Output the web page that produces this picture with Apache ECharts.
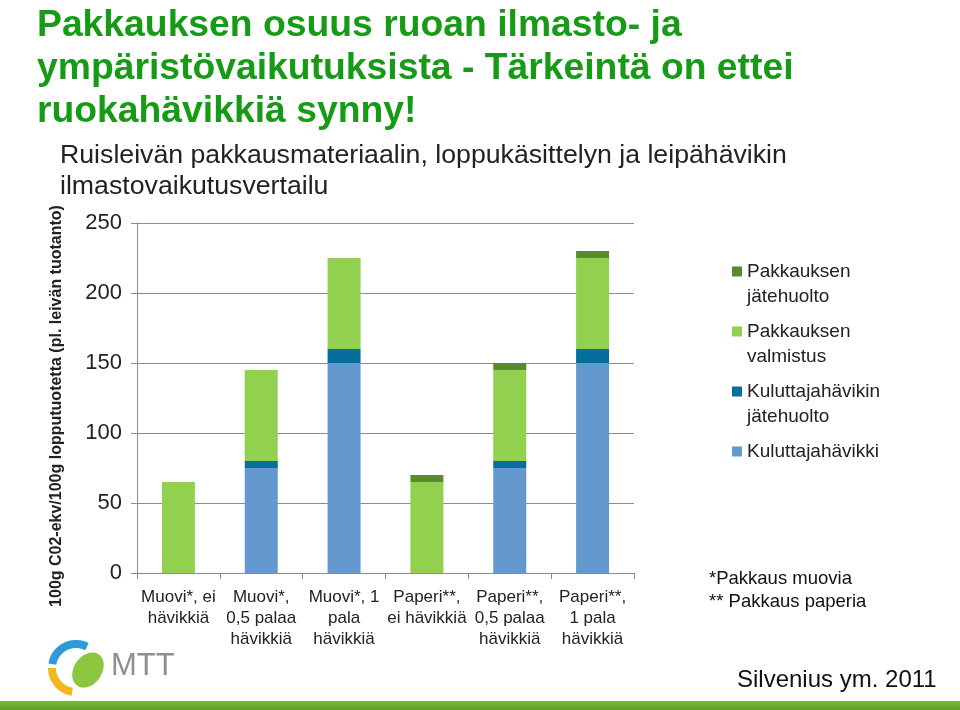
<!DOCTYPE html>
<html>
<head>
<meta charset="utf-8">
<script src="https://cdn.jsdelivr.net/npm/echarts@6/dist/echarts.min.js"></script>
<style>html,body{margin:0;padding:0;background:#fff;}#main{width:960px;height:710px;}</style>
</head>
<body>
<div id="main"></div>
<script>
const categories = ['Muovi*, ei\nhävikkiä', 'Muovi*,\n0,5 palaa\nhävikkiä', 'Muovi*, 1\npala\nhävikkiä', 'Paperi**,\nei hävikkiä', 'Paperi**,\n0,5 palaa\nhävikkiä', 'Paperi**,\n1 pala\nhävikkiä'];
const kuluttajahavikki = [0, 75, 150, 0, 75, 150];
const kuluttajahavikinJatehuolto = [0, 5, 10, 0, 5, 10];
const pakkauksenValmistus = [65, 65, 65, 65, 65, 65];
const pakkauksenJatehuolto = [0, 0, 0, 5, 5, 5];
const yTicks = [0, 50, 100, 150, 200, 250];

const FONT = '"Liberation Sans", Arial, sans-serif';
const chart = echarts.init(document.getElementById('main'), null, {renderer: 'canvas'});

const names = ['Kuluttajahävikki', 'Kuluttajahävikin\njätehuolto', 'Pakkauksen\nvalmistus', 'Pakkauksen\njätehuolto'];
const colors = ['#6399CF', '#066E9B', '#92D050', '#5B8A2E'];
const values = [kuluttajahavikki, kuluttajahavikinJatehuolto, pakkauksenValmistus, pakkauksenJatehuolto];

const series = names.map((n, i) => ({
  name: n, type: 'bar', stack: 'total', barWidth: 33,
  itemStyle: {color: colors[i]},
  data: values[i]
}));

chart.setOption({
  animation: false,
  backgroundColor: '#fff',
  title: [
    {text: 'Pakkauksen osuus ruoan ilmasto- ja\nympäristövaikutuksista - Tärkeintä on ettei\nruokahävikkiä synny!',
     left: 37, top: 4, padding: 0,
     textStyle: {fontFamily: FONT, fontSize: 37.3, fontWeight: 'bold', color: '#179B17', lineHeight: 43}},
    {text: 'Ruisleivän pakkausmateriaalin, loppukäsittelyn ja leipähävikin\nilmastovaikutusvertailu',
     left: 60, top: 140, padding: 0,
     textStyle: {fontFamily: FONT, fontSize: 26.7, fontWeight: 'normal', color: '#222', lineHeight: 31}}
  ],
  legend: {
    orient: 'vertical', left: 732, top: 234, padding: 0, itemGap: -15,
    itemWidth: 10, itemHeight: 10, icon: 'rect',
    textStyle: {fontFamily: FONT, fontSize: 19, color: '#222', lineHeight: 25},
    formatter: function (name) { return name.indexOf('\n') >= 0 ? ' \n' + name : ' \n' + name + '\n '; },
    data: ['Pakkauksen\njätehuolto', 'Pakkauksen\nvalmistus', 'Kuluttajahävikin\njätehuolto', 'Kuluttajahävikki']
  },
  grid: {left: 137, right: 326, top: 223, bottom: 137, containLabel: false},
  xAxis: {
    type: 'category', data: categories,
    axisLine: {lineStyle: {color: '#8c8c8c', width: 1}},
    axisTick: {show: true, length: 6, lineStyle: {color: '#8c8c8c'}},
    axisLabel: {fontFamily: FONT, fontSize: 17, color: '#222', lineHeight: 21, margin: 14, interval: 0}
  },
  yAxis: {
    type: 'value', min: yTicks[0], max: yTicks[yTicks.length - 1], interval: 50,
    name: '100g C02-ekv/100g lopputuotetta (pl. leivän tuotanto)',
    nameLocation: 'middle', nameRotate: 90, nameGap: 72,
    nameTextStyle: {fontFamily: FONT, fontSize: 16, fontWeight: 'bold', color: '#222', padding: [0, 16, 0, 0]},
    axisLine: {show: true, lineStyle: {color: '#8c8c8c', width: 1}},
    axisTick: {show: true, length: 6, inside: false, lineStyle: {color: '#8c8c8c'}},
    splitLine: {show: true, lineStyle: {color: '#8c8c8c', width: 1}},
    axisLabel: {fontFamily: FONT, fontSize: 22, color: '#222', margin: 15}
  },
  graphic: [
    {type: 'text', left: 709, top: 567, style: {text: '*Pakkaus muovia\n** Pakkaus paperia', font: '18.5px ' + FONT, fill: '#111', lineHeight: 23}},
    {type: 'text', left: 737, top: 668, style: {text: 'Silvenius ym. 2011', font: '24px ' + FONT, fill: '#111'}},
    {type: 'rect', shape: {x: 0, y: 701, width: 960, height: 9},
     style: {fill: new echarts.graphic.LinearGradient(0, 0, 0, 1, [{offset: 0, color: '#7DBB3A'}, {offset: 1, color: '#5E9E25'}])}},
    // MTT logo
    {type: 'arc', shape: {cx: 76, cy: 668, r: 24, startAngle: Math.PI * 1.05, endAngle: Math.PI * 1.65}, style: {stroke: '#2E9AD6', lineWidth: 8, fill: null}},
    {type: 'arc', shape: {cx: 76, cy: 668, r: 24, startAngle: Math.PI * 0.55, endAngle: Math.PI * 1.0}, style: {stroke: '#F2B81D', lineWidth: 8, fill: null}},
    {type: 'ellipse', shape: {cx: 88, cy: 670, rx: 14, ry: 19}, rotation: -0.6, originX: 88, originY: 670, style: {fill: '#8CC63F'}},
    {type: 'text', left: 111, top: 651, style: {text: 'MTT', font: '300 31px ' + FONT, fill: '#8f8f8f'}}
  ],
  series: series
});
</script>
</body>
</html>
